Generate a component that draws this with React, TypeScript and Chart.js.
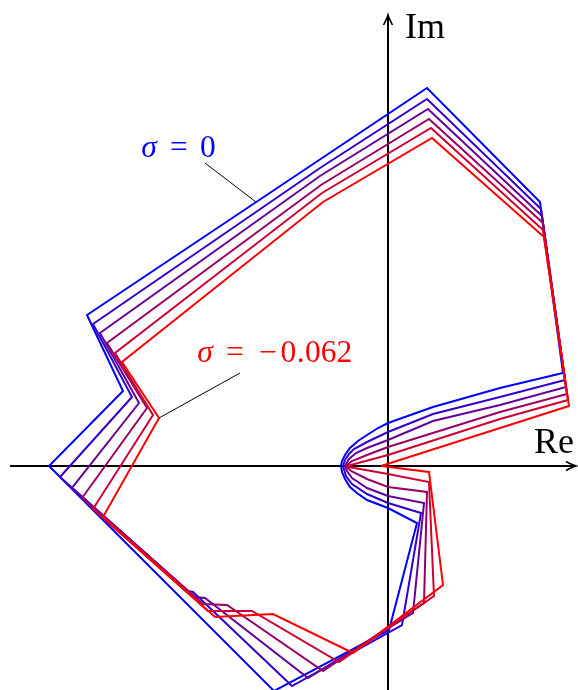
import React, { useEffect, useRef } from "react";
import { Chart, registerables } from "chart.js";

Chart.register(...registerables);

const WIDTH = 578;
const HEIGHT = 690;

// Visible window of the complex plane
const reMin = -3.88;
const reMax = 1.9;
const imMin = -2.24;
const imMax = 4.66;

// Extent of the drawn Re / Im axes
const reAxisFrom = -3.78;
const reAxisTo = 1.88;
const imAxisFrom = -2.24;
const imAxisTo = 4.51;

const sigmaValues = [0, -0.0124, -0.0248, -0.0372, -0.0496, -0.062];

// Closed contours, one per σ, as [Re, Im] pairs
const contourSigma0: [number, number][] = [
  [-0.47, 0], [-0.46, 0.05], [-0.43, 0.11], [-0.38, 0.18], [-0.3, 0.25], [-0.21, 0.31],
  [-0.1, 0.38], [0, 0.43], [0.45, 0.59], [1.12, 0.78], [1.75, 0.93], [1.52, 2.64],
  [0.39, 3.78], [-3.01, 1.51], [-2.65, 0.75], [-3.39, 0], [-1.14, -2.25], [0.01, -1.64],
  [0.29, -0.57], [0, -0.42], [-0.21, -0.34], [-0.31, -0.27], [-0.38, -0.21], [-0.43, -0.13],
  [-0.46, -0.06],
];
const contourSigma1: [number, number][] = [
  [-0.45, 0], [-0.43, 0.06], [-0.39, 0.12], [-0.34, 0.17], [-0.21, 0.24], [0, 0.34],
  [0.45, 0.52], [1.12, 0.69], [1.77, 0.86], [1.53, 2.57], [0.39, 3.67], [-0.68, 2.98],
  [-2.95, 1.42], [-2.56, 0.69], [-3.28, -0.11], [-2.0, -1.25], [-1.95, -1.26], [-0.96, -2.2],
  [0.14, -1.59], [0.33, -0.47], [0, -0.37], [-0.21, -0.28], [-0.36, -0.18], [-0.42, -0.1],
];
const contourSigma2: [number, number][] = [
  [-0.43, 0], [-0.39, 0.07], [-0.32, 0.13], [-0.21, 0.18], [0, 0.26], [0.45, 0.45],
  [1.12, 0.61], [1.78, 0.79], [1.54, 2.5], [0.4, 3.57], [-0.68, 2.9], [-2.88, 1.33],
  [-2.49, 0.63], [-3.16, -0.22], [-1.93, -1.31], [-1.83, -1.32], [-0.8, -2.12], [0.25, -1.47],
  [0.36, -0.37], [0, -0.3], [-0.21, -0.22], [-0.36, -0.12], [-0.41, -0.05],
];
const contourSigma3: [number, number][] = [
  [-0.42, 0], [-0.36, 0.05], [-0.21, 0.11], [0, 0.19], [1.12, 0.54], [1.79, 0.72],
  [1.55, 2.43], [0.41, 3.47], [-0.67, 2.81], [-2.81, 1.23], [-2.41, 0.58], [-3.06, -0.32],
  [-1.85, -1.38], [-1.61, -1.39], [-0.65, -2.05], [0.36, -1.37], [0.39, -0.26], [0, -0.21],
  [-0.21, -0.13], [-0.37, -0.05],
];
const contourSigma4: [number, number][] = [
  [-0.41, 0], [0, 0.11], [1.12, 0.47], [1.8, 0.66], [1.55, 2.36], [0.43, 3.38],
  [-0.66, 2.73], [-2.73, 1.13], [-2.35, 0.51], [-2.95, -0.43], [-1.8, -1.45], [-1.36, -1.45],
  [-0.49, -1.96], [0.46, -1.3], [0.41, -0.16], [0, -0.08], [-0.39, -0.01],
];
const contourSigma5: [number, number][] = [
  [-0.07, 0], [1.81, 0.6], [1.56, 2.29], [0.44, 3.28], [-0.65, 2.64], [-2.66, 1.04],
  [-2.29, 0.48], [-2.85, -0.51], [-1.73, -1.51], [-1.15, -1.48], [-0.35, -1.87], [0.55, -1.19],
  [0.41, -0.06],
];

const contours = [
  contourSigma0, contourSigma1, contourSigma2, contourSigma3, contourSigma4, contourSigma5,
];

// Callouts: text position (left, baseline) and leader line, in plane coordinates
const firstLabelAt: [number, number] = [-2.48, 3.09];
const firstLeader: [number, number][] = [[-1.83, 3.03], [-1.32, 2.64]];
const lastLabelAt: [number, number] = [-1.92, 1.04];
const lastLeader: [number, number][] = [[-1.48, 0.93], [-2.29, 0.48]];
const reLabelAt: [number, number] = [1.46, 0.13];
const imLabelAt: [number, number] = [0.17, 4.28];

const SERIF = '"Liberation Serif", "DejaVu Serif", serif';

function sigmaColor(t: number): string {
  return `rgb(${Math.round(255 * t)},0,${Math.round(255 * (1 - t))})`;
}

function formatSigma(v: number): string {
  if (v === 0) return "0";
  const s = Math.abs(v).toFixed(3);
  return (v < 0 ? "\u2212" : "") + s;
}

// Advance widths (em) giving math-style spacing for "σ = value"
function sigmaTokens(value: string) {
  const tokens: { ch: string; adv: number; italic?: boolean }[] = [
    { ch: "σ", adv: 0.57, italic: true },
    { ch: "", adv: 0.278 },
    { ch: "=", adv: 0.778 },
    { ch: "", adv: 0.278 },
  ];
  for (const c of value) {
    if (c === "\u2212") tokens.push({ ch: c, adv: 0.778 });
    else if (c === ".") tokens.push({ ch: c, adv: 0.278 });
    else tokens.push({ ch: c, adv: 0.5 });
  }
  return tokens;
}

function drawArrowHead(ctx: CanvasRenderingContext2D, x: number, y: number, dx: number, dy: number) {
  const len = 10;
  const half = 4.5;
  const px = -dy;
  const py = dx;
  ctx.beginPath();
  ctx.moveTo(x - dx * len + px * half, y - dy * len + py * half);
  ctx.quadraticCurveTo(x - dx * 3 + px * 0.8, y - dy * 3 + py * 0.8, x, y);
  ctx.quadraticCurveTo(x - dx * 3 - px * 0.8, y - dy * 3 - py * 0.8, x - dx * len - px * half, y - dy * len - py * half);
  ctx.stroke();
}

const planeAxes = {
  id: "planeAxes",
  beforeDatasetsDraw(chart: any) {
    const { ctx, scales } = chart;
    const xs = scales.x;
    const ys = scales.y;
    const x0 = xs.getPixelForValue(0);
    const y0 = ys.getPixelForValue(0);
    ctx.save();
    ctx.strokeStyle = "#000";
    ctx.lineWidth = 2;
    ctx.lineCap = "butt";
    const xa = xs.getPixelForValue(reAxisFrom);
    const xb = xs.getPixelForValue(reAxisTo);
    ctx.beginPath();
    ctx.moveTo(xa, y0);
    ctx.lineTo(xb - 1, y0);
    ctx.stroke();
    const ya = ys.getPixelForValue(imAxisFrom);
    const yb = ys.getPixelForValue(imAxisTo);
    ctx.beginPath();
    ctx.moveTo(x0, ya);
    ctx.lineTo(x0, yb + 1);
    ctx.stroke();
    ctx.lineWidth = 1.6;
    drawArrowHead(ctx, xb, y0, 1, 0);
    drawArrowHead(ctx, x0, yb, 0, -1);
    ctx.restore();
  },
  afterDatasetsDraw(chart: any) {
    const { ctx, scales } = chart;
    const xs = scales.x;
    const ys = scales.y;
    const px = (p: [number, number]) => [xs.getPixelForValue(p[0]), ys.getPixelForValue(p[1])];
    ctx.save();
    ctx.textBaseline = "alphabetic";

    // axis names
    ctx.fillStyle = "#000";
    ctx.font = `36px ${SERIF}`;
    ctx.textAlign = "left";
    const [rx, ry] = px(reLabelAt);
    ctx.fillText("Re", rx, ry);
    const [ix, iy] = px(imLabelAt);
    ctx.fillText("Im", ix, iy);

    // σ callouts
    const callouts = [
      { at: firstLabelAt, leader: firstLeader, k: 0 },
      { at: lastLabelAt, leader: lastLeader, k: contours.length - 1 },
    ];
    const size = 31.5;
    for (const c of callouts) {
      const t = c.k / (contours.length - 1);
      const color = sigmaColor(t);
      const [lx, ly] = px(c.at);
      let cx = lx;
      ctx.fillStyle = color;
      ctx.textAlign = "center";
      for (const tok of sigmaTokens(formatSigma(sigmaValues[c.k]))) {
        const w = tok.adv * size;
        if (tok.ch) {
          ctx.font = `${tok.italic ? "italic " : ""}${size}px ${SERIF}`;
          ctx.fillText(tok.ch, cx + w / 2, ly);
        }
        cx += w;
      }
      ctx.strokeStyle = "#000";
      ctx.lineWidth = 1;
      const [a, b] = px(c.leader[0]);
      const [d, e] = px(c.leader[1]);
      ctx.beginPath();
      ctx.moveTo(a, b);
      ctx.lineTo(d, e);
      ctx.stroke();
    }
    ctx.restore();
  },
};

export default function App() {
  const canvasRef = useRef<HTMLCanvasElement | null>(null);

  useEffect(() => {
    const canvas = canvasRef.current;
    if (!canvas) return;
    const n = contours.length;
    const datasets = contours.map((pts, k) => {
      const t = k / (n - 1);
      const closed = [...pts, pts[0]];
      return {
        label: `σ = ${formatSigma(sigmaValues[k])}`,
        data: closed.map(([x, y]) => ({ x, y })),
        showLine: true,
        fill: false,
        tension: 0,
        borderColor: sigmaColor(t),
        backgroundColor: sigmaColor(t),
        borderWidth: 2,
        borderJoinStyle: "miter" as const,
        pointRadius: 0,
        pointHoverRadius: 0,
        order: n - 1 - k,
      };
    });
    const chart = new Chart(canvas, {
      type: "scatter",
      data: { datasets },
      options: {
        animation: false,
        responsive: false,
        maintainAspectRatio: false,
        devicePixelRatio: 1,
        layout: { padding: 0 },
        events: [],
        plugins: {
          legend: { display: false },
          tooltip: { enabled: false },
          title: { display: false },
        },
        scales: {
          x: { type: "linear", min: reMin, max: reMax, display: false },
          y: { type: "linear", min: imMin, max: imMax, display: false },
        },
      },
      plugins: [planeAxes],
    });
    return () => chart.destroy();
  }, []);

  return (
    <div style={{ position: "fixed", left: 0, top: 0, width: WIDTH, height: HEIGHT, background: "#fff" }}>
      <canvas ref={canvasRef} width={WIDTH} height={HEIGHT} style={{ width: WIDTH, height: HEIGHT, display: "block" }} />
    </div>
  );
}
